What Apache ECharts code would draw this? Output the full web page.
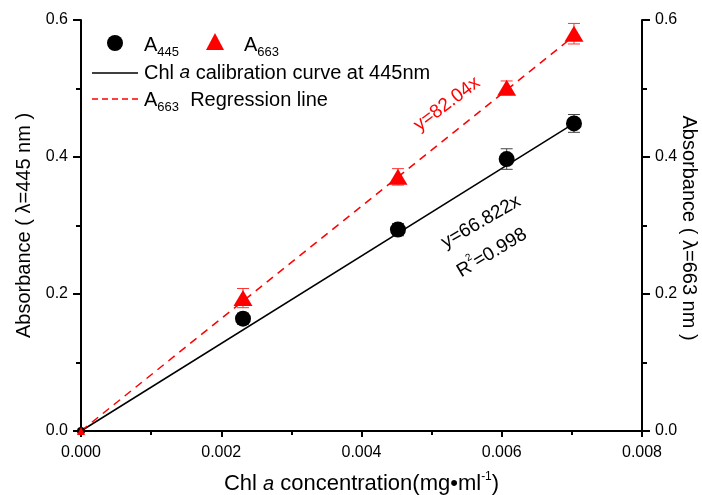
<!DOCTYPE html>
<html>
<head>
<meta charset="utf-8">
<script src="https://cdn.jsdelivr.net/npm/echarts@6/dist/echarts.min.js"></script>
<style>
  html, body { margin: 0; padding: 0; background: #fff; }
  #chart { width: 702px; height: 495px; }
</style>
</head>
<body>
<div id="chart"></div>
<script>
// data
const concentration = [0, 0.00231, 0.00452, 0.00607, 0.00703];
const a445 = [0, 0.164, 0.294, 0.397, 0.449];
const a445Err = [0, 0.008, 0.009, 0.015, 0.013];
const a663 = [0, 0.194, 0.371, 0.501, 0.580];
const a663Err = [0, 0.014, 0.012, 0.010, 0.015];
// fitted lines (end points)
const calibX = [0, 0.00703];
const calibY = [0, 0.449];
const regrX = [0, 0.00707];
const regrY = [0, 0.580];

const FONT = 'Liberation Sans, Arial, sans-serif';

const pairs = (xs, ys) => xs.map((x, i) => [x, ys[i]]);
const errData = (ys, es) => concentration.map((x, i) => [x, ys[i], es[i]]);

function errRender(color) {
    return function (params, api) {
        const x = api.value(0), y = api.value(1), e = api.value(2);
        if (!e) return null;
        const top = api.coord([x, y + e]);
        const bot = api.coord([x, y - e]);
        const w = 6;
        const st = { stroke: color, lineWidth: 1 };
        return {
            type: 'group',
            children: [
                { type: 'line', shape: { x1: top[0], y1: top[1], x2: bot[0], y2: bot[1] }, style: st },
                { type: 'line', shape: { x1: top[0] - w, y1: top[1], x2: top[0] + w, y2: top[1] }, style: st },
                { type: 'line', shape: { x1: bot[0] - w, y1: bot[1], x2: bot[0] + w, y2: bot[1] }, style: st }
            ]
        };
    };
}

function pointItems(ys) {
    return concentration.map((x, i) => ({ value: [x, ys[i]], symbolSize: x === 0 ? 8 : null }));
}

const chart = echarts.init(document.getElementById('chart'));

const yAxisBase = {
    type: 'value',
    min: 0, max: 0.6, interval: 0.2,
    splitLine: { show: false },
    axisLine: { show: true, lineStyle: { color: '#000', width: 2 } },
    axisTick: { show: true, inside: false, length: 8, lineStyle: { color: '#000', width: 2 } },
    minorTick: { show: true, splitNumber: 2, length: 5, lineStyle: { color: '#000', width: 2 } },
    axisLabel: { color: '#000', fontSize: 16, fontFamily: FONT, margin: 13, formatter: v => v.toFixed(1) },
    nameLocation: 'middle',
    nameTextStyle: { color: '#000', fontSize: 20, fontFamily: FONT }
};

const leg = {
    n: { fontSize: 20, fontFamily: FONT, color: '#000', lineHeight: 28, verticalAlign: 'middle' },
    s: { fontSize: 13, fontFamily: FONT, color: '#000', lineHeight: 28, verticalAlign: 'bottom' },
    i: { fontSize: 19, fontFamily: FONT, fontStyle: 'italic', color: '#000', lineHeight: 28, verticalAlign: 'middle' }
};

chart.setOption({
    animation: false,
    backgroundColor: '#fff',
    grid: { left: 81, right: 60, top: 20, bottom: 64, containLabel: false, outerBoundsMode: 'none' },
    xAxis: {
        type: 'value',
        min: 0, max: 0.008, interval: 0.002,
        splitLine: { show: false },
        axisLine: { show: true, onZero: false, lineStyle: { color: '#000', width: 2 } },
        axisTick: { show: true, length: 6, lineStyle: { color: '#000', width: 2 } },
        minorTick: { show: true, splitNumber: 2, length: 4, lineStyle: { color: '#000', width: 2 } },
        axisLabel: { color: '#000', fontSize: 16, fontFamily: FONT, margin: 14, formatter: v => v.toFixed(3),
                     hideOverlap: false },
        name: '{n|Chl }{i|a}{n| concentration(mg•ml}{p|-1}{n|)}',
        nameLocation: 'middle',
        nameGap: 40,
        nameTextStyle: {
            rich: {
                n: { fontSize: 22, fontFamily: FONT, color: '#000', lineHeight: 26 },
                i: { fontSize: 20, fontFamily: FONT, fontStyle: 'italic', color: '#000', lineHeight: 26 },
                p: { fontSize: 12, fontFamily: FONT, color: '#000', lineHeight: 26, verticalAlign: 'top' }
            }
        }
    },
    yAxis: [
        Object.assign({}, yAxisBase, {
            position: 'left',
            name: 'Absorbance ( λ=445 nm )',
            nameGap: 41
        }),
        Object.assign({}, yAxisBase, {
            position: 'right'
        })
    ],
    graphic: [
        // right axis title, reads top to bottom
        { type: 'text', x: 689, y: 228, rotation: -Math.PI / 2,
          style: { text: 'Absorbance ( λ=663 nm )', fill: '#000', font: '20px ' + FONT, align: 'center', verticalAlign: 'middle' } },
        // legend
        { type: 'circle', shape: { cx: 115, cy: 43, r: 8 }, style: { fill: '#000' } },
        { type: 'text', x: 144, y: 45, style: { text: '{n|A}{s|445}', rich: leg, verticalAlign: 'middle' } },
        { type: 'polygon', shape: { points: [[215, 33], [224, 50], [206, 50]] }, style: { fill: '#f00' } },
        { type: 'text', x: 244, y: 45, style: { text: '{n|A}{s|663}', rich: leg, verticalAlign: 'middle' } },
        { type: 'line', shape: { x1: 92, y1: 73, x2: 138, y2: 73 }, style: { stroke: '#000', lineWidth: 1.5 } },
        { type: 'text', x: 144, y: 73, style: { text: '{n|Chl }{i|a}{n| calibration curve at 445nm}', rich: leg, verticalAlign: 'middle' } },
        { type: 'line', shape: { x1: 92, y1: 99, x2: 138, y2: 99 }, style: { stroke: '#f00', lineWidth: 1.5, lineDash: [6, 4] } },
        { type: 'text', x: 144, y: 100, style: { text: '{n|A}{s|663}{n|  Regression line}', rich: leg, verticalAlign: 'middle' } },
        // equations
        { type: 'text', x: 447, y: 104, rotation: 37 * Math.PI / 180,
          style: { text: 'y=82.04x', fill: '#f00', font: '19px ' + FONT, align: 'center', verticalAlign: 'middle' } },
        { type: 'text', x: 481, y: 222, rotation: 30 * Math.PI / 180,
          style: { text: 'y=66.822x', fill: '#000', font: '19px ' + FONT, align: 'center', verticalAlign: 'middle' } },
        { type: 'text', x: 492, y: 253, rotation: 31 * Math.PI / 180,
          style: { text: '{n|R}{p|2}{n|=0.998}', align: 'center', verticalAlign: 'middle',
                   rich: {
                       n: { fontSize: 19, fontFamily: FONT, color: '#000', lineHeight: 26 },
                       p: { fontSize: 10, fontFamily: FONT, color: '#000', lineHeight: 26, verticalAlign: 'top' }
                   } } }
    ],
    series: [
        {
            name: 'calibration', type: 'line', data: pairs(calibX, calibY),
            showSymbol: false, lineStyle: { color: '#000', width: 1.5 }, z: 2
        },
        {
            name: 'regression', type: 'line', yAxisIndex: 1, data: pairs(regrX, regrY),
            showSymbol: false, lineStyle: { color: '#f00', width: 1.5, type: [8, 6] }, z: 2
        },
        {
            name: 'A445 err', type: 'custom', data: errData(a445, a445Err),
            renderItem: errRender('#444'), z: 3
        },
        {
            name: 'A663 err', type: 'custom', yAxisIndex: 1, data: errData(a663, a663Err),
            renderItem: errRender('#f33'), z: 3
        },
        {
            name: 'A445', type: 'scatter', data: pointItems(a445),
            symbol: 'circle', symbolSize: 16, itemStyle: { color: '#000', opacity: 1 }, z: 4
        },
        {
            name: 'A663', type: 'scatter', yAxisIndex: 1, data: pointItems(a663),
            symbol: 'triangle', symbolSize: [19, 16], itemStyle: { color: '#f00', opacity: 1 }, z: 5
        }
    ]
});
</script>
</body>
</html>
